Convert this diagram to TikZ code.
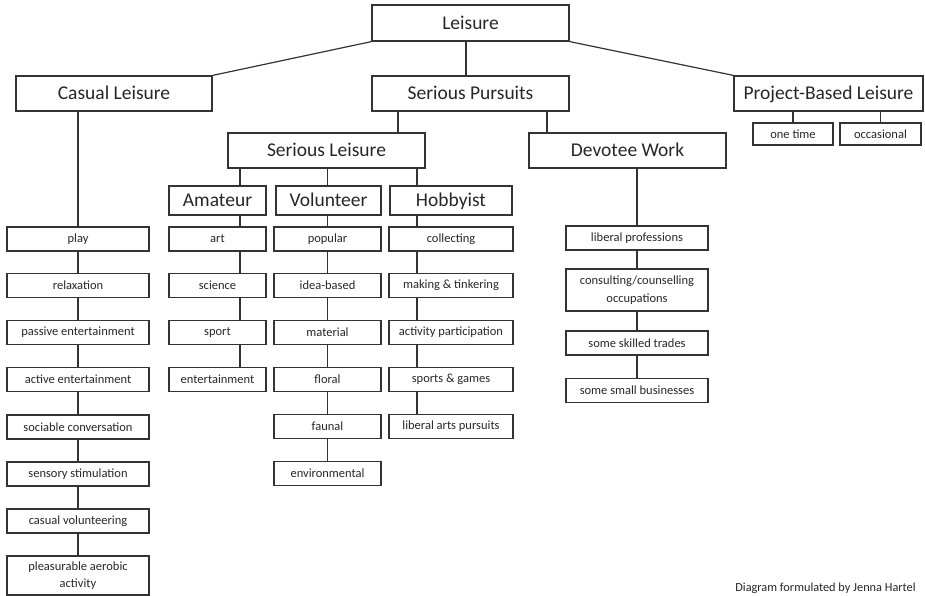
\documentclass[tikz,border=0pt]{standalone}
\usepackage{fontspec}
\setmainfont{Carlito}
\tikzset{
  big/.style={draw=black!80, line width=1.2pt, inner sep=0pt, text=black!85, text height=13pt, text depth=0.5pt, font=\fontsize{19.5}{22}\selectfont},
  sml/.style={draw=black!80, line width=1.2pt, inner sep=0pt, text=black!85, align=center, minimum height=24pt, font=\fontsize{12.5}{17.5}\selectfont},
  conn/.style={draw=black!80, line width=1.2pt},
}
\begin{document}
\begin{tikzpicture}[x=1pt,y=-1pt]
\useasboundingbox (0,0) rectangle (925,596);
\node[big, minimum width=197pt, minimum height=36pt] (lei) at (470.5,23){Leisure};
\node[big, minimum width=196pt, minimum height=35pt] (cas) at (114,93.5){Casual Leisure};
\node[big, minimum width=197pt, minimum height=35pt] (sp) at (470.5,93.5){Serious Pursuits};
\node[big, minimum width=189pt, minimum height=35pt] (pbl) at (828.5,93.5){Project-Based Leisure};
\draw[conn](lei.south west) -- (cas.north east);
\draw[conn](lei.south east) -- (pbl.north west);
\coordinate (lx) at (466,0);
\draw[conn](lei.south -| lx) -- (sp.north -| lx);
\node[sml, minimum width=80pt, minimum height=22pt] (pbl1) at (793,134){one time};
\node[sml, minimum width=81pt, minimum height=22pt] (pbl2) at (880.5,134){occasional};
\draw[conn](pbl.south -| pbl1.north) -- (pbl1.north);
\draw[conn](pbl.south -| pbl2.north) -- (pbl2.north);
\node[big, minimum width=197pt, minimum height=35pt] (serl) at (326.5,150.5){Serious Leisure};
\node[big, minimum width=197pt, minimum height=35pt] (dev) at (627.5,150.5){Devotee Work};
\coordinate (slx) at (398,0);
\coordinate (dwx) at (547,0);
\draw[conn](sp.south -| slx) -- (serl.north -| slx);
\draw[conn](sp.south -| dwx) -- (dev.north -| dwx);
\node[big, minimum width=97pt, minimum height=29pt] (ama) at (217.5,200.5){Amateur};
\node[big, minimum width=105pt, minimum height=29pt] (vol) at (328.5,200.5){Volunteer};
\node[big, minimum width=122pt, minimum height=29pt] (hob) at (451,200.5){Hobbyist};
\coordinate (ax) at (240,0);
\coordinate (hx) at (417,0);
\coordinate (vx) at (327.5,0);
\draw[conn](serl.south -| ax) -- (ama.north -| ax);
\draw[conn](serl.south -| vx) -- (vol.north -| vx);
\draw[conn](serl.south -| hx) -- (hob.north -| hx);
\node[sml, minimum width=142pt] (c1) at (78,239){play};
\node[sml, minimum width=142pt] (c2) at (78,285.5){relaxation};
\node[sml, minimum width=142pt] (c3) at (78,332.5){passive entertainment};
\node[sml, minimum width=142pt] (c4) at (78,379.5){active entertainment};
\node[sml, minimum width=142pt] (c5) at (78,427){sociable conversation};
\node[sml, minimum width=142pt] (c6) at (78,474){sensory stimulation};
\node[sml, minimum width=142pt] (c7) at (78,521){casual volunteering};
\node[sml, minimum width=142pt, minimum height=39pt] (c8) at (78,575.5){pleasurable aerobic\\activity};
\draw[conn](cas.south -| c1.north) -- (c1.north);
\draw[conn](c1) -- (c2);
\draw[conn](c2) -- (c3);
\draw[conn](c3) -- (c4);
\draw[conn](c4) -- (c5);
\draw[conn](c5) -- (c6);
\draw[conn](c6) -- (c7);
\draw[conn](c7) -- (c8);
\node[sml, minimum width=97pt] (a1) at (217.5,239){art};
\node[sml, minimum width=97pt] (a2) at (217.5,285.5){science};
\node[sml, minimum width=97pt] (a3) at (217.5,332.5){sport};
\node[sml, minimum width=97pt] (a4) at (217.5,379.5){entertainment};
\draw[conn](ama.south -| ax) -- (a1.north -| ax);
\draw[conn](a1.south -| ax) -- (a2.north -| ax);
\draw[conn](a2.south -| ax) -- (a3.north -| ax);
\draw[conn](a3.south -| ax) -- (a4.north -| ax);
\node[sml, minimum width=107pt] (v1) at (327.5,239){popular};
\node[sml, minimum width=107pt] (v2) at (327.5,285.5){idea-based};
\node[sml, minimum width=107pt] (v3) at (327.5,332.5){material};
\node[sml, minimum width=107pt] (v4) at (327.5,379.5){floral};
\node[sml, minimum width=107pt] (v5) at (327.5,426.5){faunal};
\node[sml, minimum width=107pt] (v6) at (327.5,473.5){environmental};
\draw[conn](vol.south -| vx) -- (v1.north -| vx);
\draw[conn](v1) -- (v2);
\draw[conn](v2) -- (v3);
\draw[conn](v3) -- (v4);
\draw[conn](v4) -- (v5);
\draw[conn](v5) -- (v6);
\node[sml, minimum width=124pt] (h1) at (451,239){collecting};
\node[sml, minimum width=124pt] (h2) at (451,285.5){making \& tinkering};
\node[sml, minimum width=124pt] (h3) at (451,332.5){activity participation};
\node[sml, minimum width=124pt] (h4) at (451,379.5){sports \& games};
\node[sml, minimum width=124pt] (h5) at (451,426.5){liberal arts pursuits};
\draw[conn](hob.south -| hx) -- (h1.north -| hx);
\draw[conn](h1.south -| hx) -- (h2.north -| hx);
\draw[conn](h2.south -| hx) -- (h3.north -| hx);
\draw[conn](h3.south -| hx) -- (h4.north -| hx);
\draw[conn](h4.south -| hx) -- (h5.north -| hx);
\node[sml, minimum width=142pt] (d1) at (637,238){liberal professions};
\node[sml, minimum width=142pt, minimum height=42pt] (d2) at (637,290){consulting/counselling\\occupations};
\node[sml, minimum width=142pt] (d3) at (637,343){some skilled trades};
\node[sml, minimum width=142pt] (d4) at (637,390.5){some small businesses};
\draw[conn](dev.south -| d1.north) -- (d1.north);
\draw[conn](d1) -- (d2);
\draw[conn](d2) -- (d3);
\draw[conn](d3) -- (d4);
\node[text=black!85, font=\fontsize{12.3}{14}\selectfont] (credit) at (825.5,588){Diagram formulated by Jenna Hartel};
\end{tikzpicture}
\end{document}
